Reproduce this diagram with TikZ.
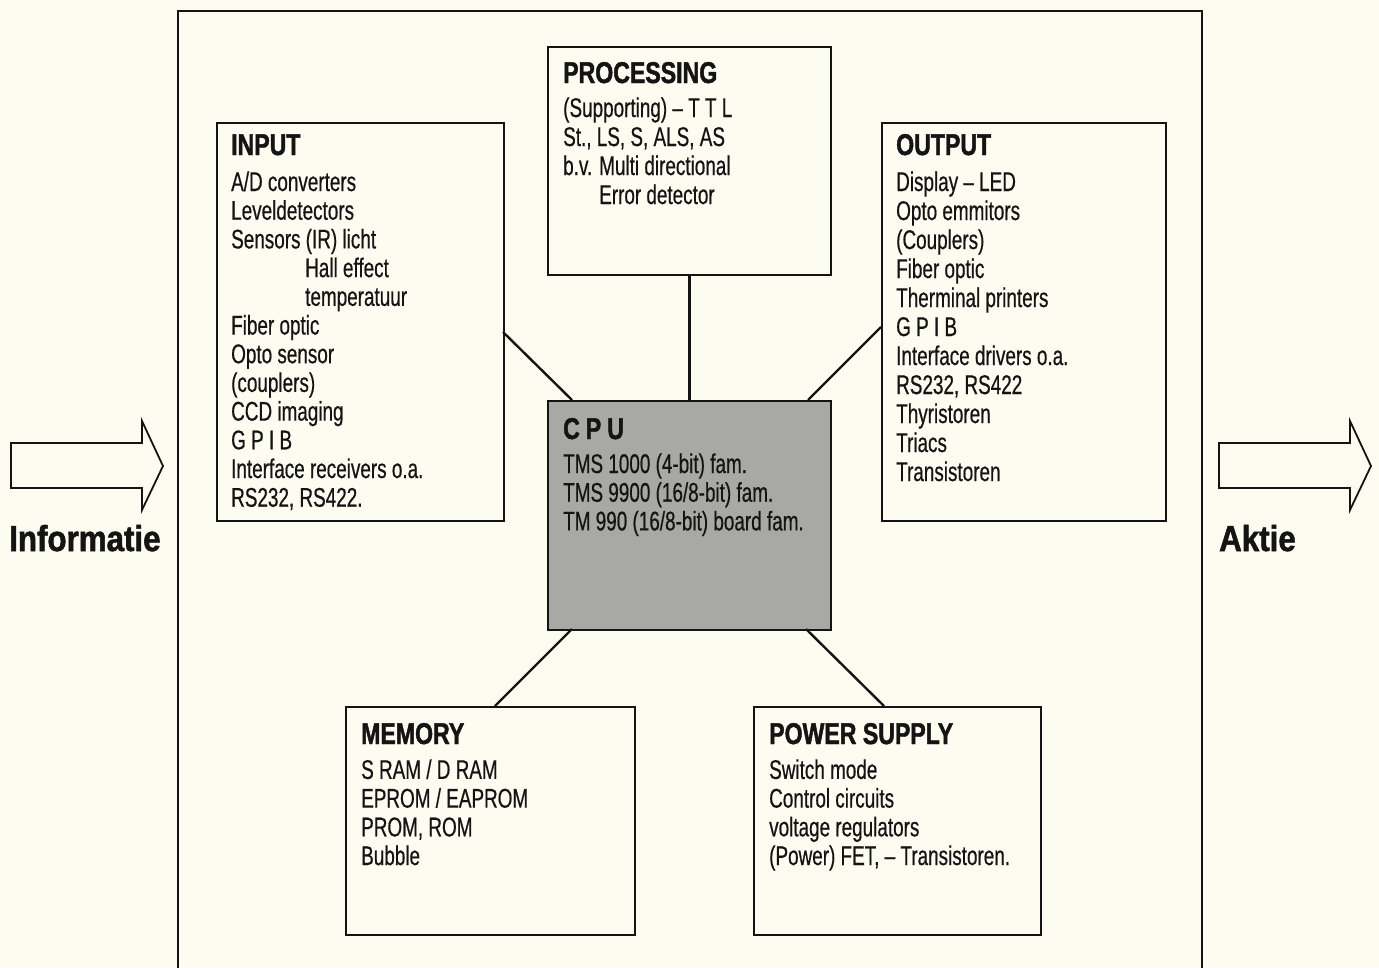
\documentclass[tikz,border=0pt]{standalone}
\usepackage{fontspec}
\setmainfont{Liberation Sans}
\newfontfamily\bodyfont{Liberation Sans}[FakeStretch=0.70,FakeBold=0.5]
\newfontfamily\titlefont{Liberation Sans}[FakeStretch=0.77,FakeBold=1.5]
\newfontfamily\labelfont{Liberation Sans}[FakeStretch=0.87,FakeBold=1.5]
\definecolor{paper}{RGB}{253,252,241}
\definecolor{cpugray}{RGB}{168,168,165}
\definecolor{ink}{RGB}{20,20,20}
\begin{document}
\begin{tikzpicture}[x=1pt,y=-1pt,
  box/.style={draw=ink,line width=2pt,inner sep=0pt,anchor=north west},
  ttl/.style={anchor=base west,inner sep=0pt,text=ink,font=\fontsize{30}{30}\selectfont\titlefont\bfseries},
  body/.style={anchor=base west,inner sep=0pt,align=left,text=ink,font=\fontsize{27}{28.7}\selectfont\bodyfont},
  link/.style={draw=ink,line width=2.4pt},
  bigarrow/.style={draw=ink,line width=1.8pt,fill=paper,line join=miter},
  biglabel/.style={anchor=base west,inner sep=0pt,text=ink,font=\fontsize{36}{36}\selectfont\labelfont\bfseries}]
\fill[paper] (0,0) rectangle (1379,967);
\useasboundingbox (0,0) rectangle (1379,967);
% outer frame
\draw[draw=ink,line width=2pt] (178,975) -- (178,11) -- (1202,11) -- (1202,975);
% boxes
\node[box,minimum width=287pt,minimum height=398pt] (inB) at (216,122) {};
\node[box,minimum width=283pt,minimum height=228pt] (prB) at (547,46) {};
\node[box,minimum width=284pt,minimum height=398pt] (outB) at (881,122) {};
\node[box,fill=cpugray,minimum width=283pt,minimum height=229pt] (cpuB) at (547,400) {};
\node[box,minimum width=289pt,minimum height=228pt] (memB) at (345,706) {};
\node[box,minimum width=287pt,minimum height=228pt] (pwB) at (753,706) {};
% connector end points on box borders
\coordinate (inE) at (503,332);
\coordinate (cpuNW) at (572,400);
\coordinate (outW) at (881,327);
\coordinate (cpuNE) at (808,400);
\coordinate (cpuSW) at (572,629);
\coordinate (memN) at (495,706);
\coordinate (cpuSE) at (806,629);
\coordinate (pwN) at (884,706);
\draw[link] (prB.south) -- (cpuB.north);
\draw[link] (inE) -- (cpuNW);
\draw[link] (outW) -- (cpuNE);
\draw[link] (cpuSW) -- (memN);
\draw[link] (cpuSE) -- (pwN);
% texts (body nodes are placed at the baseline of their last line)
\node[ttl] (inT) at (231,155) {INPUT};
\node[body] (inL) at (231,506.7) {A/D converters\\Leveldetectors\\Sensors (IR) licht\\\hspace*{74pt}Hall effect\\\hspace*{74pt}temperatuur\\Fiber optic\\Opto sensor\\(couplers)\\CCD imaging\\G P I B\\Interface receivers o.a.\\RS232, RS422.};
\node[ttl] (prT) at (563,83) {PROCESSING};
\node[body,font=\fontsize{27}{29}\selectfont\bodyfont] (prL) at (563,204) {(Supporting) – T T L\\St., LS, S, ALS, AS\\b.v. Multi directional\\\hspace*{36pt}Error detector};
\node[ttl] (outT) at (896,155) {OUTPUT};
\node[body,font=\fontsize{27}{29}\selectfont\bodyfont] (outL) at (896,481) {Display – LED\\Opto emmitors\\(Couplers)\\Fiber optic\\Therminal printers\\G P I B\\Interface drivers o.a.\\RS232, RS422\\Thyristoren\\Triacs\\Transistoren};
\node[ttl] (cpuT) at (563,439) {C\hspace{6pt}P\hspace{6pt}U};
\node[body] (cpuL) at (563,530.4) {TMS 1000 (4-bit) fam.\\TMS 9900 (16/8-bit) fam.\\TM 990 (16/8-bit) board fam.};
\node[ttl] (memT) at (361,744) {MEMORY};
\node[body] (memL) at (361,865) {S RAM / D RAM\\EPROM / EAPROM\\PROM, ROM\\Bubble};
\node[ttl] (pwT) at (769,744) {POWER SUPPLY};
\node[body] (pwL) at (769,865) {Switch mode\\Control circuits\\voltage regulators\\(Power) FET, – Transistoren.};
% big arrows
\draw[bigarrow] (11,443) -- (142,443) -- (142,421) -- (163,466) -- (142,510) -- (142,488) -- (11,488) -- cycle;
\node[biglabel] (infoL) at (9,551) {Informatie};
\draw[bigarrow] (1219,443) -- (1350,443) -- (1350,421) -- (1371,466) -- (1350,510) -- (1350,488) -- (1219,488) -- cycle;
\node[biglabel] (aktL) at (1219,551) {Aktie};
\end{tikzpicture}
\end{document}
